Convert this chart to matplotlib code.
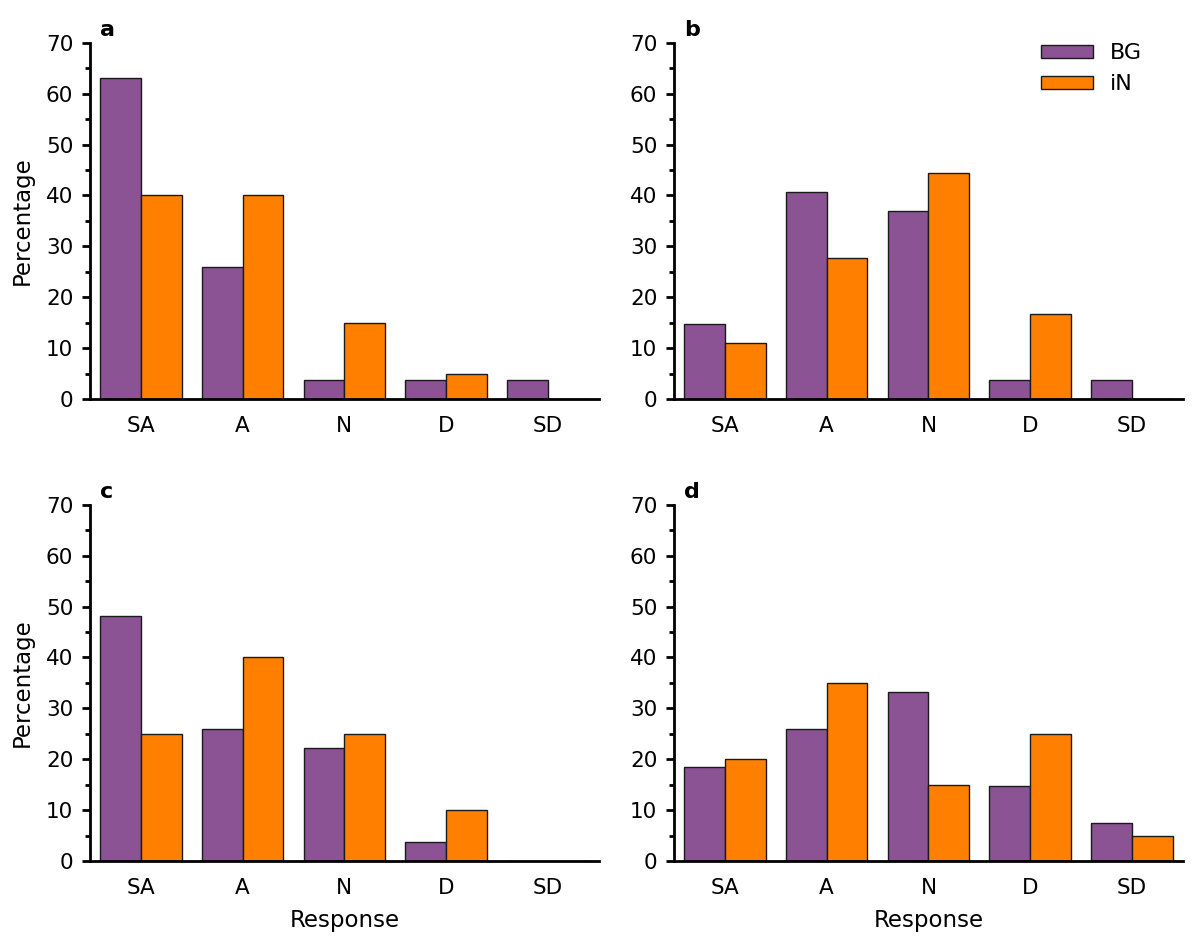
import matplotlib
matplotlib.use("Agg")
import matplotlib.pyplot as plt
import numpy as np
from matplotlib.ticker import MultipleLocator

categories = ["SA", "A", "N", "D", "SD"]
series_names = ["BG", "iN"]
panel_labels = ["a", "b", "c", "d"]

bg_a = [63.0, 25.9, 3.7, 3.7, 3.7]
in_a = [40.0, 40.0, 15.0, 5.0, 0.0]
bg_b = [14.8, 40.7, 37.0, 3.7, 3.7]
in_b = [11.1, 27.8, 44.4, 16.7, 0.0]
bg_c = [48.1, 25.9, 22.2, 3.7, 0.0]
in_c = [25.0, 40.0, 25.0, 10.0, 0.0]
bg_d = [18.5, 25.9, 33.3, 14.8, 7.4]
in_d = [20.0, 35.0, 15.0, 25.0, 5.0]

panels = [(bg_a, in_a), (bg_b, in_b), (bg_c, in_c), (bg_d, in_d)]

purple = "#8B5294"
orange = "#FF8000"

plt.rcParams['font.family'] = ['DejaVu Sans']
plt.rcParams['font.size'] = 15

fig = plt.figure(figsize=(12, 9.5), dpi=100)
lefts = [0.075, 0.5617]
bottoms = [0.58, 0.0937]
w, h = 0.424, 0.375

x = np.arange(len(categories))
bw = 0.4
for i, (bg, inn) in enumerate(panels):
    r, c = divmod(i, 2)
    ax = fig.add_axes([lefts[c], bottoms[r], w, h])
    ax.bar(x - bw / 2, bg, bw, color=purple, edgecolor="#1a1a1a", linewidth=1.0, label=series_names[0])
    ax.bar(x + bw / 2, inn, bw, color=orange, edgecolor="#1a1a1a", linewidth=1.0, label=series_names[1])
    ax.set_xlim(-0.5, 4.5)
    ax.set_ylim(0, 70)
    ax.set_xticks(x)
    ax.set_xticklabels(categories)
    ax.yaxis.set_major_locator(MultipleLocator(10))
    ax.yaxis.set_minor_locator(MultipleLocator(5))
    for s in ["top", "right"]:
        ax.spines[s].set_visible(False)
    for s in ["left", "bottom"]:
        ax.spines[s].set_linewidth(2.0)
    ax.tick_params(axis="y", which="major", length=6, width=2, pad=6, labelsize=15.5)
    ax.tick_params(axis="y", which="minor", length=3.5, width=2)
    ax.tick_params(axis="x", length=0, pad=12, labelsize=15.5)
    ax.text(0.02, 1.008, panel_labels[i], transform=ax.transAxes, fontweight="bold",
            fontsize=16, va="bottom", ha="left")
    if c == 0:
        ax.set_ylabel("Percentage", fontsize=16.5, labelpad=9)
    if r == 1:
        ax.set_xlabel("Response", fontsize=16.5, labelpad=8)
    if i == 1:
        ax.legend(loc="upper right", bbox_to_anchor=(0.96, 1.055), frameon=False,
                  handlelength=2.3, handleheight=0.55, labelspacing=0.5,
                  handletextpad=0.8, fontsize=16)

fig.savefig("out.png", dpi=100)
